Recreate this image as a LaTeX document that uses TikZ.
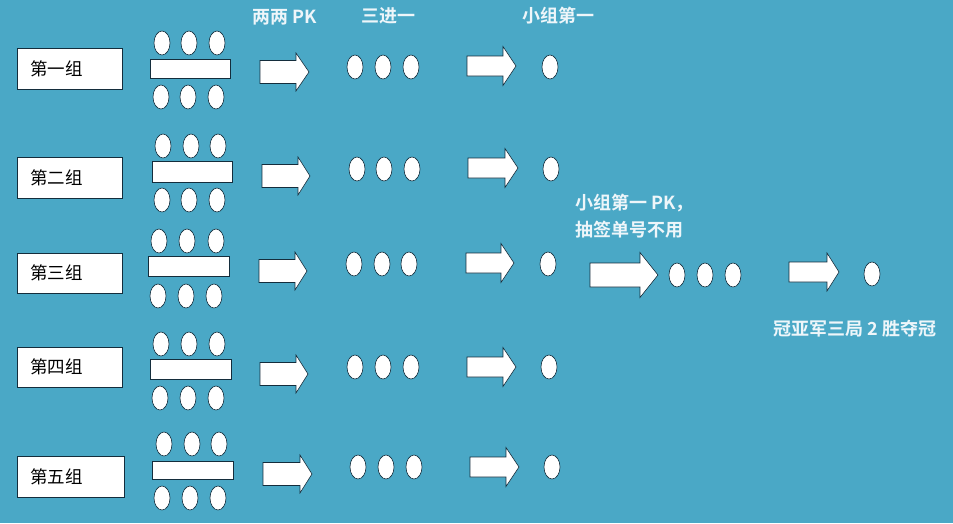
\documentclass[tikz,border=0pt]{standalone}
\usepackage{fontspec}
\setmainfont{Noto Sans CJK SC}
\newfontfamily\cjkb{Noto Sans CJK SC Bold}
\usetikzlibrary{shapes.geometric}
\definecolor{bg}{RGB}{74,168,198}
\definecolor{ln}{RGB}{20,45,60}
\definecolor{tw}{RGB}{238,246,250}
\tikzset{
  ov/.style={ellipse,draw=ln,fill=white,line width=0.6pt,minimum width=16pt,minimum height=24pt,inner sep=0pt},
  grp/.style={draw=ln,fill=white,line width=0.6pt},
  arr/.style={draw=ln,fill=white,line width=0.6pt,line join=miter},
  lbl/.style={font=\fontsize{17.5}{20}\selectfont,text=black,anchor=west,inner sep=0pt},
  hdr/.style={font=\cjkb\fontsize{18}{20}\selectfont,text=tw,inner sep=0pt},
}
% x1 x2 yc headbase shafthalf headhalf
\newcommand\barrow[6]{\draw[arr] (#1,#3-#5) -- (#4,#3-#5) -- (#4,#3-#6) -- (#2,#3) -- (#4,#3+#6) -- (#4,#3+#5) -- (#1,#3+#5) -- cycle;}
% row: name, label, boxx1,boxx2,boxy1,boxy2
\newcommand\grprow[6]{%
  \draw[grp] (#3,#5) rectangle (#4,#6);
  \node[lbl] (#1lbl) at (#3+13,{(#5+#6)/2}) {#2};}
\begin{document}
\begin{tikzpicture}[x=1pt,y=-1pt]
\fill[bg] (0,0) rectangle (953,523);
\useasboundingbox (0,0) rectangle (953,523);

% headers
\node[hdr] (h1) at (285,17) {两两 PK};
\node[hdr] (h2) at (388,16) {三进一};
\node[hdr] (h3) at (558,16) {小组第一};

% Row 1
\grprow{a}{第一组}{17}{122}{48}{89}
\node[ov] (a1) at (162,43) {}; \node[ov] (a2) at (189,43) {}; \node[ov] (a3) at (217,43) {};
\draw[grp] (150,59) rectangle (230,78);
\node[ov] (a4) at (161,97) {}; \node[ov] (a5) at (188,97) {}; \node[ov] (a6) at (216,97) {};
\barrow{260}{309}{72}{296}{11.5}{19}
\node[ov] (a7) at (355,67) {}; \node[ov] (a8) at (383,67) {}; \node[ov] (a9) at (411,67) {};
\barrow{467}{516}{66}{503}{10}{19.5}
\node[ov] (aw) at (550,67) {};

% Row 2
\grprow{b}{第二组}{17}{122}{157}{198}
\node[ov] (b1) at (163,146) {}; \node[ov] (b2) at (191,146) {}; \node[ov] (b3) at (218,146) {};
\draw[grp] (152,161) rectangle (232,182);
\node[ov] (b4) at (162,200) {}; \node[ov] (b5) at (189,200) {}; \node[ov] (b6) at (217,200) {};
\barrow{262}{310}{176}{298}{11.5}{19}
\node[ov] (b7) at (357,169) {}; \node[ov] (b8) at (384,169) {}; \node[ov] (b9) at (412,169) {};
\barrow{468}{518}{168}{505}{10}{19.5}
\node[ov] (bw) at (551,169) {};

% Row 3
\grprow{c}{第三组}{17}{122}{253}{293}
\node[ov] (c1) at (159,241) {}; \node[ov] (c2) at (187,241) {}; \node[ov] (c3) at (216,241) {};
\draw[grp] (148,256) rectangle (229,276);
\node[ov] (c4) at (158,296) {}; \node[ov] (c5) at (186,296) {}; \node[ov] (c6) at (214,296) {};
\barrow{259}{307}{271}{295}{11.5}{19}
\node[ov] (c7) at (354,264) {}; \node[ov] (c8) at (382,264) {}; \node[ov] (c9) at (409,264) {};
\barrow{466}{514}{263}{501}{10}{19.5}
\node[ov] (cw) at (548,264) {};

% Row 4
\grprow{d}{第四组}{17}{122}{347}{387}
\node[ov] (d1) at (161,344) {}; \node[ov] (d2) at (189,344) {}; \node[ov] (d3) at (217,344) {};
\draw[grp] (150,359) rectangle (231,379);
\node[ov] (d4) at (160,398) {}; \node[ov] (d5) at (188,398) {}; \node[ov] (d6) at (216,398) {};
\barrow{260}{308}{374}{296}{11.5}{19}
\node[ov] (d7) at (355,367) {}; \node[ov] (d8) at (383,367) {}; \node[ov] (d9) at (411,367) {};
\barrow{467}{516}{367}{503}{10}{19.5}
\node[ov] (dw) at (549,367) {};

% Row 5
\grprow{e}{第五组}{17}{124}{456}{497}
\node[ov] (e1) at (164,444) {}; \node[ov] (e2) at (192,444) {}; \node[ov] (e3) at (219,444) {};
\draw[grp] (152,461) rectangle (233,479);
\node[ov] (e4) at (162,498) {}; \node[ov] (e5) at (190,498) {}; \node[ov] (e6) at (218,498) {};
\barrow{263}{312}{474}{300}{11.5}{19}
\node[ov] (e7) at (358,467) {}; \node[ov] (e8) at (386,467) {}; \node[ov] (e9) at (414,467) {};
\barrow{470}{519}{467}{506}{10}{19.5}
\node[ov] (ew) at (552,467) {};

% Final stage
\node[hdr,anchor=west] (t1) at (575,203) {小组第一 PK，};
\node[hdr,anchor=west] (t2) at (575,230) {抽签单号不用};
\barrow{590}{658}{275}{640}{12}{22.5}
\node[ov] (f1) at (677,275) {}; \node[ov] (f2) at (705,275) {}; \node[ov] (f3) at (733,275) {};
\barrow{789}{839}{272}{827}{10}{19}
\node[ov] (fw) at (872,274) {};
\node[hdr,anchor=west] (t3) at (773,329) {冠亚军三局 2 胜夺冠};
\end{tikzpicture}
\end{document}
